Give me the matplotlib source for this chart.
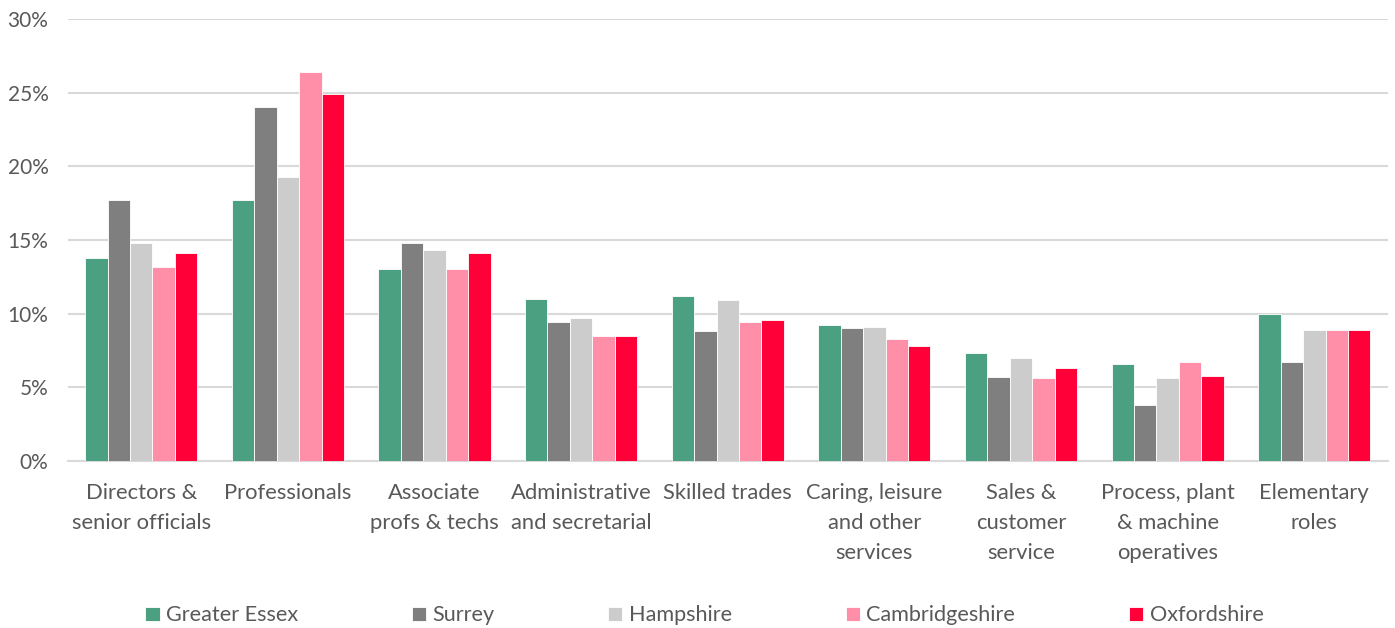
import matplotlib
matplotlib.use("Agg")
import matplotlib.pyplot as plt
import numpy as np

categories = ["Directors &\nsenior officials", "Professionals", "Associate\nprofs & techs",
              "Administrative\nand secretarial", "Skilled trades", "Caring, leisure\nand other\nservices",
              "Sales &\ncustomer\nservice", "Process, plant\n& machine\noperatives", "Elementary\nroles"]
series_names = ["Greater Essex", "Surrey", "Hampshire", "Cambridgeshire", "Oxfordshire"]
greater_essex = [13.8, 17.7, 13.0, 11.0, 11.2, 9.2, 7.3, 6.6, 10.0]
surrey = [17.7, 24.0, 14.8, 9.4, 8.8, 9.0, 5.7, 3.8, 6.7]
hampshire = [14.8, 19.3, 14.3, 9.7, 10.9, 9.1, 7.0, 5.6, 8.9]
cambridgeshire = [13.2, 26.4, 13.0, 8.5, 9.4, 8.3, 5.6, 6.7, 8.9]
oxfordshire = [14.1, 24.9, 14.1, 8.5, 9.6, 7.8, 6.3, 5.8, 8.9]
yticks = [0, 5, 10, 15, 20, 25, 30]
colors = ["#4CA082", "#7F7F7F", "#CCCCCC", "#FF8FA8", "#FF0038"]

plt.rcParams['font.family'] = ['Lato', 'DejaVu Sans']
fig = plt.figure(figsize=(13.95, 6.28), dpi=100)
ax = fig.add_axes([0.0487, 0.266, 0.946, 0.7037])

data = [greater_essex, surrey, hampshire, cambridgeshire, oxfordshire]
x = np.arange(len(categories))
w = 0.153
for i, (name, vals, c) in enumerate(zip(series_names, data, colors)):
    ax.bar(x + (i - 2) * w, vals, width=w, color=c, label=name,
           edgecolor="white", linewidth=0.6, zorder=3)

ax.set_xlim(-0.5, len(categories) - 0.5)
ax.set_ylim(0, 30)
ax.set_yticks(yticks)
ax.set_yticklabels([f"{t}%" for t in yticks])
ax.grid(axis="y", color="#D9D9D9", linewidth=1.5, zorder=0)
for s in ["top", "right", "left"]:
    ax.spines[s].set_visible(False)
ax.spines["bottom"].set_color("#D9D9D9")
ax.spines["bottom"].set_linewidth(1.5)
ax.set_xticks(x)
ax.set_xticklabels(categories, linespacing=1.62, va="top", fontsize=15.8)
ax.tick_params(axis="both", length=0, colors="#595959")
ax.tick_params(axis="y", labelsize=15, pad=14)
ax.tick_params(axis="x", pad=16)

fig.legend(loc="center", bbox_to_anchor=(0.505, 0.02), ncol=5, frameon=False,
           fontsize=15.6, handlelength=0.65, handleheight=0.65, handletextpad=0.3,
           columnspacing=5.25, labelcolor="#595959")

fig.savefig("out.png", dpi=100)
